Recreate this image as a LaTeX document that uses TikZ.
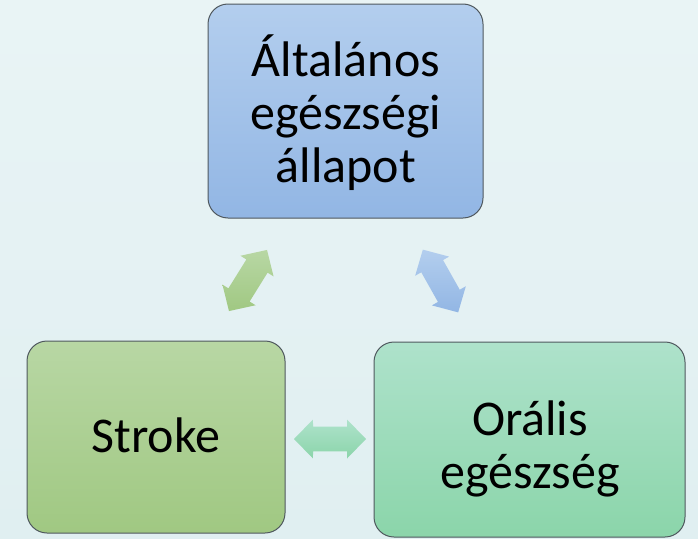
\documentclass[tikz,border=0pt]{standalone}
\usepackage{fontspec}
\setmainfont{Carlito}
\usetikzlibrary{calc}

\definecolor{bgtop}{HTML}{E9F4F5}
\definecolor{bgbot}{HTML}{E0EFF1}
\definecolor{edge}{HTML}{4F585E}
\definecolor{blueT}{HTML}{B3CEEE}
\definecolor{blueB}{HTML}{92B6E4}
\definecolor{greenT}{HTML}{B8D7A4}
\definecolor{greenB}{HTML}{A0C882}
\definecolor{mintT}{HTML}{AEE2CB}
\definecolor{mintB}{HTML}{8BD5AA}

% double block arrow: #1 centre, #2 direction, #3/#4 top/bottom colours
\newcommand{\dblarrow}[4]{%
  \path[shift={(#1)}, top color=#3, bottom color=#4]
    (#2:36) -- (#2+48.9:25.87) -- (#2+36.3:21.1) -- (#2+143.7:21.1)
    -- (#2+131.1:25.87) -- (#2+180:36) -- (#2+228.9:25.87)
    -- (#2+216.3:21.1) -- (#2-36.3:21.1) -- (#2-48.9:25.87) -- cycle;}

\begin{document}
\begin{tikzpicture}[x=1pt, y=-1pt,
  card/.style={draw=edge, line width=1pt, rounded corners=20pt},
  cardtext/.style={align=center, inner sep=0pt,
    font=\fontsize{50}{53}\selectfont},
]
  % backdrop
  \shade[top color=bgtop, bottom color=bgbot] (0,0) rectangle (698,538);
  \useasboundingbox (0,0) rectangle (698,538);

  % boxes
  \path[card, top color=blueT, bottom color=blueB]
    (208,4) rectangle (483,218);
  \path[card, top color=greenT, bottom color=greenB]
    (27,341) rectangle (285,533);
  \path[card, top color=mintT, bottom color=mintB]
    (374,342) rectangle (685,537);

  \node[cardtext] (general) at (346,113) {Általános\\egészségi\\állapot};
  \node[cardtext] (stroke) at (156,435) {Stroke};
  \node[cardtext] (oral) at (530,449) {Orális\\egészség};

  % links between the boxes
  \coordinate (gs) at (248,280.5);
  \coordinate (go) at (440.5,281);
  \coordinate (so) at (330,439);
  \dblarrow{gs}{-58.1}{greenT}{greenB}
  \dblarrow{go}{60.6}{blueT}{blueB}
  \dblarrow{so}{0}{mintT}{mintB}
\end{tikzpicture}
\end{document}
